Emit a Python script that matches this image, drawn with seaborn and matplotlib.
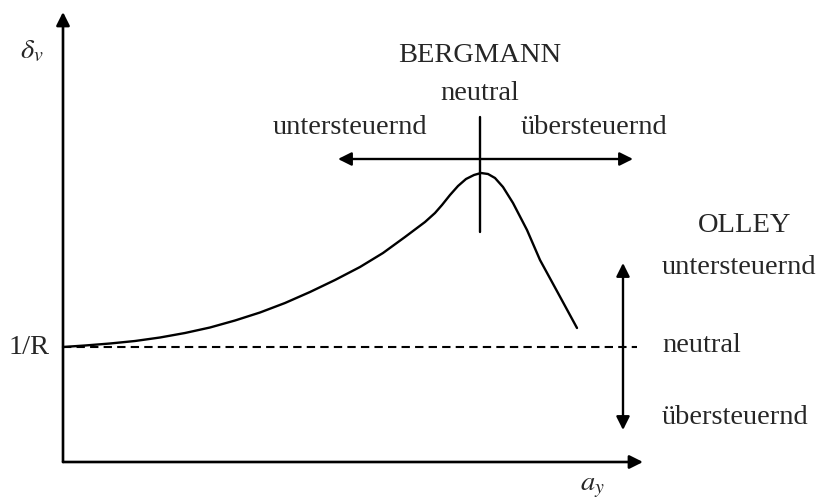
import matplotlib
matplotlib.use("Agg")
import matplotlib.pyplot as plt
import seaborn as sns
import pandas as pd

# curve (x = lateral accel., y = steering angle, arbitrary units)
curve_x = [0, 22, 47, 72, 97, 122, 147, 172, 197, 222, 247, 272, 297, 320, 342,
           362, 372, 379, 387, 395, 403, 411, 418, 425, 432, 440, 450, 464, 477,
           495, 514]
curve_y = [115, 116.5, 118.5, 121, 124.5, 129, 134.5, 141.5, 149.5, 159, 170,
           182, 195, 209, 225, 240, 249, 257, 267, 276, 283, 287, 289, 288, 284,
           275, 259, 232, 202, 169, 134]
neutral_level = 115          # 1/R
x_axis_end = 580
y_axis_end = 450
bergmann_x = 417
bergmann_line = (230, 345)   # vertical marker, bottom/top
bergmann_arrow = (275, 570, 303)  # left, right, y
olley_arrow = (560, 32, 199)      # x, bottom, top

sns.set_theme(style="white")
plt.rcParams["font.family"] = ["Liberation Serif", "DejaVu Serif"]
plt.rcParams["mathtext.fontset"] = "stix"

fig = plt.figure(figsize=(8.28, 5), dpi=100)
ax = fig.add_axes([0, 0, 1, 1])
ax.set_xlim(-63, 765)
ax.set_ylim(-38, 462)
ax.axis("off")

df = pd.DataFrame({"x": curve_x, "y": curve_y})
sns.lineplot(data=df, x="x", y="y", ax=ax, color="black", lw=1.7, sort=False)

arrow = dict(arrowstyle="-|>", color="black", lw=1.9, mutation_scale=20,
             shrinkA=0, shrinkB=0)
# axes
ax.annotate("", xy=(x_axis_end, 0), xytext=(0, 0), arrowprops=arrow)
ax.annotate("", xy=(0, y_axis_end), xytext=(0, 0), arrowprops=arrow)

# neutral line
ax.plot([0, 574], [neutral_level, neutral_level], color="black", lw=1.5,
        ls=(0, (4, 2.5)))

# Bergmann marker
ax.plot([bergmann_x, bergmann_x], bergmann_line, color="black", lw=1.7)
ax.annotate("", xy=(bergmann_arrow[0], bergmann_arrow[2]),
            xytext=(bergmann_arrow[1], bergmann_arrow[2]),
            arrowprops=dict(arrowstyle="<|-|>", color="black", lw=1.7,
                            mutation_scale=20, shrinkA=0, shrinkB=0))
# Olley marker
ax.annotate("", xy=(olley_arrow[0], olley_arrow[1]),
            xytext=(olley_arrow[0], olley_arrow[2]),
            arrowprops=dict(arrowstyle="<|-|>", color="black", lw=1.7,
                            mutation_scale=20, shrinkA=0, shrinkB=0))

fs = 20.5
ax.text(-31, 410, r"$\delta_v$", fontsize=fs, ha="center", va="center")
ax.text(-34, neutral_level, "1/R", fontsize=fs, ha="center", va="center")
ax.text(529, -25, r"$a_y$", fontsize=fs, ha="center", va="center")

ax.text(bergmann_x, 406, "BERGMANN", fontsize=fs, ha="center", va="center")
ax.text(bergmann_x, 369, "neutral", fontsize=fs, ha="center", va="center")
ax.text(287, 334, "untersteuernd", fontsize=fs, ha="center", va="center")
ax.text(531, 334, "übersteuernd", fontsize=fs, ha="center", va="center")

ax.text(682, 236, "OLLEY", fontsize=fs, ha="center", va="center")
ax.text(599, 195, "untersteuernd", fontsize=fs, ha="left", va="center")
ax.text(599, 117, "neutral", fontsize=fs, ha="left", va="center")
ax.text(599, 44, "übersteuernd", fontsize=fs, ha="left", va="center")

fig.savefig("out.png", dpi=100)
